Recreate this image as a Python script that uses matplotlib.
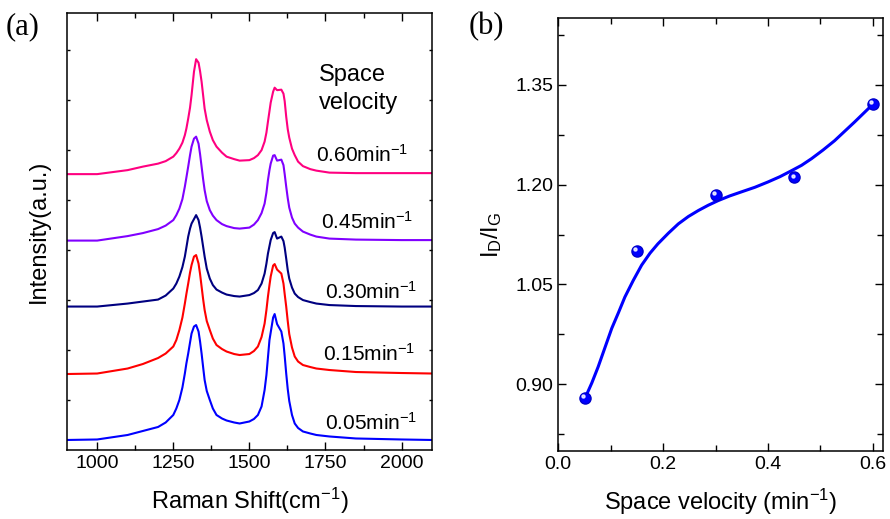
import matplotlib
matplotlib.use("Agg")
import matplotlib.pyplot as plt
import matplotlib.transforms as mtransforms

plt.rcParams['font.family'] = ['Liberation Sans', 'DejaVu Sans']
plt.rcParams['mathtext.fontset'] = 'custom'
plt.rcParams['mathtext.rm'] = 'Liberation Sans'
plt.rcParams['mathtext.it'] = 'Liberation Sans:italic'

# ---- panel (a): stacked Raman spectra (a.u.) ----
raman_shift = [900, 1000, 1100, 1150, 1200, 1225, 1250, 1260, 1270, 1280,
               1288, 1293, 1299, 1305, 1310, 1318, 1325, 1333, 1338, 1343,
               1348, 1353, 1360, 1370, 1380, 1392, 1410, 1425, 1450, 1468,
               1500, 1515, 1528, 1540, 1550, 1556, 1561, 1566, 1570, 1578,
               1583, 1591, 1605, 1612, 1616, 1621, 1626, 1631, 1640, 1649,
               1660, 1676, 1700, 1720, 1763, 1850, 2000, 2100]

sv_005 = [0.20, 0.21, 0.30, 0.38, 0.46, 0.55, 0.70, 0.83, 1.00, 1.25,
          1.53, 1.73, 1.93, 2.15, 2.33, 2.47, 2.50, 2.37, 2.17, 1.93,
          1.66, 1.40, 1.18, 1.00, 0.83, 0.70, 0.63, 0.59, 0.55, 0.53,
          0.57, 0.62, 0.70, 0.87, 1.20, 1.50, 1.85, 2.20, 2.35, 2.65,
          2.72, 2.52, 2.37, 2.13, 1.88, 1.53, 1.22, 0.98, 0.70, 0.53,
          0.44, 0.37, 0.33, 0.30, 0.27, 0.23, 0.21, 0.20]
sv_015 = [1.52, 1.53, 1.63, 1.72, 1.84, 1.93, 2.07, 2.20, 2.40, 2.65,
          2.93, 3.12, 3.33, 3.55, 3.70, 3.87, 3.90, 3.73, 3.52, 3.27,
          3.02, 2.80, 2.58, 2.40, 2.23, 2.10, 2.02, 1.97, 1.92, 1.90,
          1.92, 1.98, 2.07, 2.26, 2.53, 2.80, 3.07, 3.30, 3.47, 3.69,
          3.72, 3.61, 3.53, 3.33, 3.12, 2.87, 2.58, 2.32, 2.05, 1.87,
          1.77, 1.70, 1.66, 1.63, 1.60, 1.56, 1.54, 1.53]
sv_030 = [2.87, 2.87, 2.93, 2.97, 3.01, 3.09, 3.23, 3.33, 3.47, 3.66,
          3.87, 4.05, 4.27, 4.43, 4.53, 4.62, 4.70, 4.60, 4.45, 4.27,
          4.07, 3.87, 3.63, 3.43, 3.30, 3.21, 3.15, 3.11, 3.08, 3.07,
          3.10, 3.14, 3.20, 3.33, 3.53, 3.73, 3.93, 4.08, 4.20, 4.34,
          4.36, 4.23, 4.27, 4.18, 4.05, 3.83, 3.60, 3.43, 3.25, 3.13,
          3.06, 3.00, 2.96, 2.93, 2.90, 2.88, 2.87, 2.87]
sv_045 = [4.19, 4.19, 4.28, 4.34, 4.42, 4.49, 4.60, 4.70, 4.83, 5.02,
          5.27, 5.45, 5.67, 5.90, 6.07, 6.23, 6.27, 6.13, 5.92, 5.67,
          5.42, 5.20, 4.98, 4.80, 4.69, 4.60, 4.52, 4.48, 4.44, 4.43,
          4.45, 4.51, 4.60, 4.74, 4.93, 5.15, 5.40, 5.60, 5.73, 5.89,
          5.90, 5.79, 5.81, 5.70, 5.52, 5.27, 5.04, 4.85, 4.65, 4.53,
          4.45, 4.37, 4.31, 4.27, 4.23, 4.21, 4.20, 4.20]
sv_060 = [5.52, 5.52, 5.60, 5.67, 5.73, 5.78, 5.87, 5.94, 6.03, 6.15,
          6.30, 6.43, 6.63, 6.85, 7.10, 7.57, 7.82, 7.75, 7.58, 7.37,
          7.10, 6.83, 6.60, 6.37, 6.20, 6.07, 5.95, 5.87, 5.82, 5.79,
          5.80, 5.84, 5.90, 6.00, 6.17, 6.35, 6.57, 6.78, 6.95, 7.17,
          7.25, 7.20, 7.21, 7.13, 6.98, 6.67, 6.42, 6.25, 6.03, 5.90,
          5.77, 5.68, 5.62, 5.59, 5.55, 5.54, 5.54, 5.54]

spectra = [sv_005, sv_015, sv_030, sv_045, sv_060]
spec_colors = ['#0000FF', '#FF0000', '#000080', '#8000FF', '#FF0080']
rate_labels = ['0.05min$^{-1}$', '0.15min$^{-1}$', '0.30min$^{-1}$',
               '0.45min$^{-1}$', '0.60min$^{-1}$']

# ---- panel (b): ID/IG vs space velocity ----
velocity = [0.05, 0.15, 0.30, 0.45, 0.60]
id_ig = [0.879, 1.100, 1.185, 1.211, 1.321]

fit_x = [0.051, 0.064, 0.076, 0.089, 0.102, 0.115, 0.127, 0.143, 0.159,
         0.175, 0.190, 0.210, 0.229, 0.248, 0.267, 0.286, 0.305, 0.327,
         0.349, 0.375, 0.400, 0.423, 0.445, 0.464, 0.483, 0.505, 0.527,
         0.546, 0.565, 0.582, 0.599]
fit_y = [0.879, 0.902, 0.926, 0.955, 0.984, 1.008, 1.031, 1.056, 1.079,
         1.097, 1.111, 1.127, 1.141, 1.152, 1.161, 1.169, 1.176, 1.183,
         1.189, 1.196, 1.204, 1.212, 1.221, 1.229, 1.239, 1.252, 1.266,
         1.280, 1.294, 1.307, 1.320]

fig = plt.figure(figsize=(8.9, 5.19), dpi=100)
ax1 = fig.add_axes([0.075, 0.133, 0.4104, 0.8425])
ax2 = fig.add_axes([0.6273, 0.1316, 0.3652, 0.8331])

for ax in (ax1, ax2):
    for s in ax.spines.values():
        s.set_linewidth(1.1)

# panel (a)
for vals, c in zip(spectra, spec_colors):
    ax1.plot(raman_shift, vals, color=c, lw=1.5, solid_joinstyle='round')

ax1.set_xlim(900, 2100)
ax1.set_ylim(0, 8.75)
ax1.set_xticks([1000, 1250, 1500, 1750, 2000])
ax1.set_xticks([1125, 1375, 1625, 1875], minor=True)
ax1.set_yticks(range(1, 9))
ax1.set_yticklabels([])
ax1.tick_params(axis='x', which='major', direction='in', length=6, width=1,
                top=True, labelsize=14)
ax1.tick_params(axis='x', which='minor', direction='in', length=3.5, width=1,
                top=True)
ax1.tick_params(axis='y', which='major', direction='in', length=2.5, width=1,
                right=True)
ax1.set_xlabel('Raman Shift(cm$^{-1}$)', fontsize=17, labelpad=10)
ax1.set_ylabel('Intensity(a.u.)', fontsize=17, labelpad=9)

ax1.text(1730, 7.22, 'Space\nvelocity', fontsize=17, ha='left', va='center',
         linespacing=1.35)
label_pos = [(1747, 0.55), (1741, 1.93), (1747, 3.17), (1736, 4.57), (1720, 5.9)]
for (lx, ly), lab in zip(label_pos, rate_labels):
    ax1.text(lx, ly, lab, fontsize=15, ha='left', va='center')

# panel (b)
ax2.plot(fit_x, fit_y, color='#0000FF', lw=2.2, zorder=2,
         solid_joinstyle='round')
ax2.plot(velocity, id_ig, 'o', color='#0000FF', mec='#0000CC', ms=8, zorder=3)
hl = mtransforms.offset_copy(ax2.transData, fig=fig, x=-1.2, y=1.2, units='points')
ax2.plot(velocity, id_ig, 'o', color='white', ms=2.2, alpha=0.8,
         transform=hl, zorder=4)

ax2.set_xlim(0, 0.62)
ax2.set_ylim(0.80, 1.45)
ax2.set_xticks([0.0, 0.2, 0.4, 0.6])
ax2.set_xticklabels(['0.0', '0.2', '0.4', '0.6'])
ax2.set_xticks([0.1, 0.3, 0.5], minor=True)
ax2.set_yticks([0.90, 1.05, 1.20, 1.35])
ax2.set_yticklabels(['0.90', '1.05', '1.20', '1.35'])
ax2.set_yticks([0.825, 0.975, 1.125, 1.275, 1.425], minor=True)
ax2.tick_params(which='major', direction='in', length=6, width=1,
                top=True, right=True, labelsize=14)
ax2.tick_params(which='minor', direction='in', length=4, width=1,
                top=True, right=True)
ax2.set_xlabel('Space velocity (min$^{-1}$)', fontsize=17, labelpad=10)
ax2.set_ylabel('I$_\\mathrm{D}$/I$_\\mathrm{G}$', fontsize=17, labelpad=8)

fig.text(0.006, 0.948, '(a)', fontsize=22, family='Liberation Serif',
         ha='left', va='center')
fig.text(0.526, 0.948, '(b)', fontsize=22, family='Liberation Serif',
         ha='left', va='center')

fig.savefig('out.png', dpi=100)
